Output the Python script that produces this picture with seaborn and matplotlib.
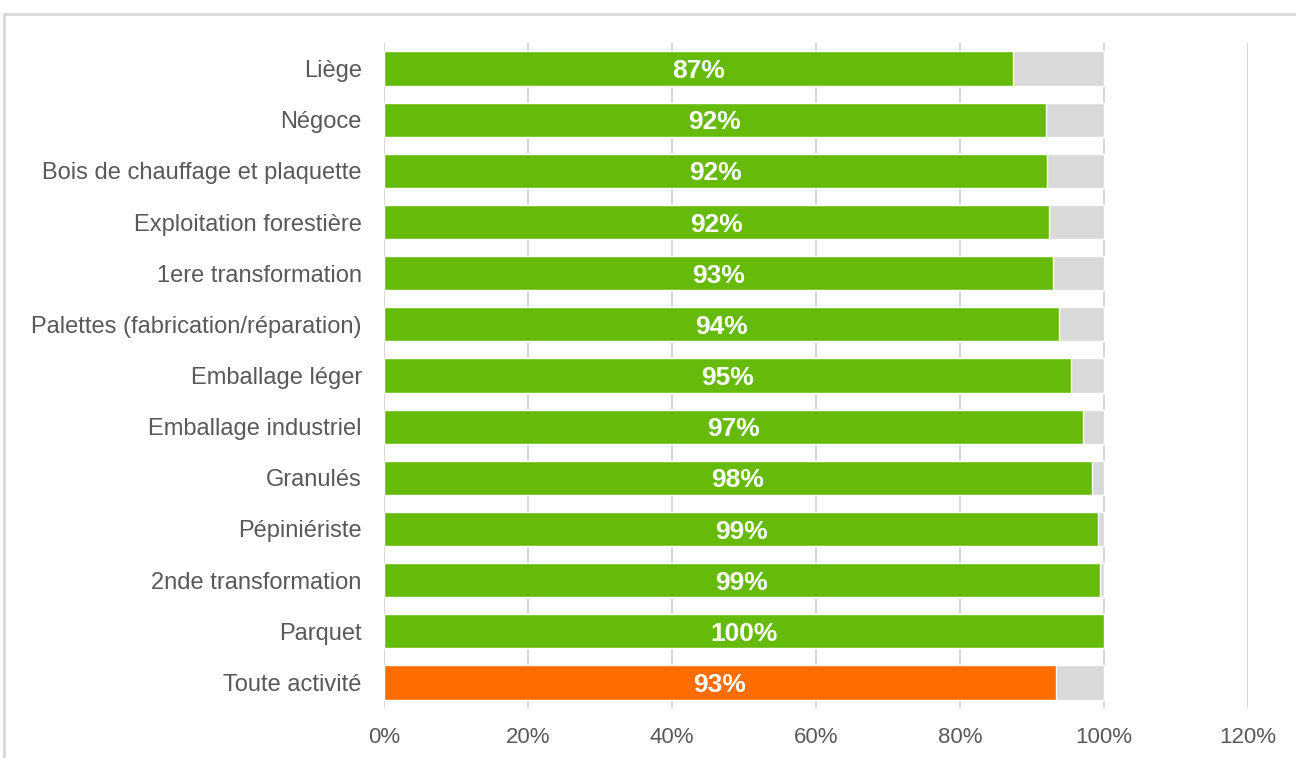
import seaborn as sns
import matplotlib.pyplot as plt
import matplotlib.patches as patches
import pandas as pd

categories = ["Liège", "Négoce", "Bois de chauffage et plaquette", "Exploitation forestière",
              "1ere transformation", "Palettes (fabrication/réparation)", "Emballage léger",
              "Emballage industriel", "Granulés", "Pépiniériste", "2nde transformation",
              "Parquet", "Toute activité"]
values = [87.4, 91.9, 92.1, 92.4, 92.9, 93.8, 95.4, 97.1, 98.3, 99.2, 99.4, 99.96, 93.3]
totals = [100] * len(categories)

df = pd.DataFrame({"cat": categories, "val": values, "tot": totals})
colors = ["#66BB0A"] * 12 + ["#FF6D00"]

sns.set_style("white")
plt.rcParams["font.family"] = ["Liberation Sans", "DejaVu Sans"]

fig = plt.figure(figsize=(12.96, 7.58), dpi=100)
ax = fig.add_axes([384 / 1296, 1 - 708 / 758, (1248 - 384) / 1296, (708 - 43) / 758])

sns.barplot(data=df, y="cat", x="tot", color="#D9D9D9", saturation=1, width=0.67, ax=ax, zorder=2)
sns.barplot(data=df, y="cat", x="val", hue="cat", palette=colors, saturation=1, legend=False,
            width=0.67, ax=ax, zorder=3)

for i, v in enumerate(values):
    ax.text(v / 2, i + 0.05, f"{round(v)}%", ha="center", va="center", color="white",
            fontsize=19, fontweight="bold", zorder=4)

ax.set_xlim(0, 120)
ax.set_ylim(12.5, -0.5)
ax.set_xticks(range(0, 121, 20))
ax.set_xticklabels([f"{t}%" for t in range(0, 121, 20)])
ax.xaxis.grid(True, color="#D9D9D9", linewidth=1.5, zorder=1)
ax.set_axisbelow(True)
ax.tick_params(axis="both", length=0, labelsize=17, labelcolor="#595959")
ax.tick_params(axis="x", labelsize=16, pad=14)
ax.tick_params(axis="y", pad=16)
ax.set_xlabel("")
ax.set_ylabel("")
for s in ax.spines.values():
    s.set_visible(False)

fig.patches.append(patches.Rectangle((4 / 1296, -0.1), 1.2, 1 - 14 / 758 + 0.1,
                                     transform=fig.transFigure, fill=False,
                                     edgecolor="#D9D9D9", linewidth=2, zorder=0))

fig.savefig("out.png", dpi=100)
